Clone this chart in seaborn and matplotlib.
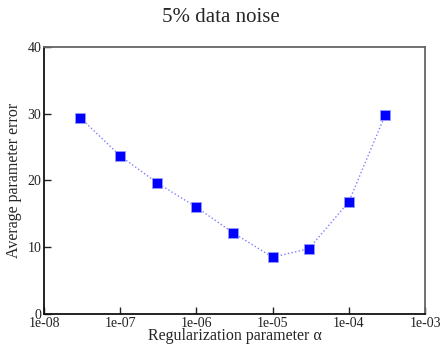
import numpy as np
import pandas as pd
import matplotlib
matplotlib.use('Agg')
import matplotlib.pyplot as plt
import seaborn as sns

# data
alpha = [3e-8, 1e-7, 3e-7, 1e-6, 3e-6, 1e-5, 3e-5, 1e-4, 3e-4]
error = [29.4, 23.7, 19.7, 16.0, 12.2, 8.5, 9.8, 16.8, 29.8]
x_ticks = [1e-8, 1e-7, 1e-6, 1e-5, 1e-4, 1e-3]
x_tick_labels = ['1e-08', '1e-07', '1e-06', '1e-05', '1e-04', '1e-03']
y_ticks = [0, 10, 20, 30, 40]

df = pd.DataFrame({'alpha': alpha, 'error': error})

sns.set_style('white')
plt.rcParams['font.family'] = ['Liberation Serif', 'DejaVu Serif']

fig = plt.figure(figsize=(4.41, 3.44), dpi=100)
ax = fig.add_axes([44 / 441, 30 / 344, 381 / 441, 267 / 344])

sns.lineplot(data=df, x='alpha', y='error', ax=ax, color='#7f7fff',
             linestyle=':', linewidth=1.0)
sns.scatterplot(data=df, x='alpha', y='error', ax=ax, marker='s', s=45,
                color='#0000ff', edgecolor='#9999ff', linewidth=0.6, zorder=3)

ax.set_xscale('log')
ax.set_xlim(1e-8, 1e-3)
ax.set_ylim(0, 40)
ax.set_xticks(x_ticks)
ax.set_xticklabels(x_tick_labels)
ax.set_yticks(y_ticks)
ax.minorticks_off()
ax.tick_params(direction='in', length=5, width=1, labelsize=10, pad=2,
               bottom=True, left=True, top=False, right=False, colors='#222222')

for side in ['left', 'bottom']:
    ax.spines[side].set_color('#111111')
    ax.spines[side].set_linewidth(1.3)
for side in ['top', 'right']:
    ax.spines[side].set_color('#666666')
    ax.spines[side].set_linewidth(1.3)

ax.set_xlabel('Regularization parameter \u03b1', fontsize=11.5, labelpad=-1)
ax.set_ylabel('Average parameter error', fontsize=11.5, labelpad=4)
fig.text(0.5, 1 - 18 / 344, '5% data noise', ha='center', va='center', fontsize=15)

plt.savefig('out.png', dpi=100)
